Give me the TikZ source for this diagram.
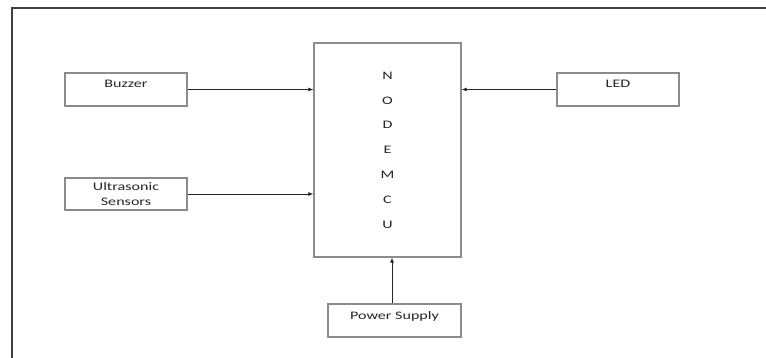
\documentclass[tikz,border=0pt]{standalone}
\usepackage{fontspec}
\usepackage{tikz}
\usetikzlibrary{arrows.meta, positioning, calc}
\newfontfamily\blockfont[FakeStretch=1.4]{Carlito}

\begin{document}
\begin{tikzpicture}[
    x=1pt, y=-1pt,
    blk/.style={draw=black!45, line width=1.1pt, fill=white, inner sep=0pt,
                font=\blockfont\fontsize{11.5}{15}\selectfont, text=black!85,
                minimum width=122pt, minimum height=33pt},
    top/.style={text height=8pt, text depth=11pt},
    arr/.style={-{Latex[length=5pt, width=4pt]}, draw=black!85, line width=0.9pt}
]
\useasboundingbox (0,0) rectangle (766,358);
% outer frame, cut off on the right and at the bottom
\draw[black!75, line width=2pt] (12,362) -- (12,8) -- (770,8);
% controller in the middle
\node[blk, minimum width=147pt, minimum height=214pt, align=center,
      font=\blockfont\fontsize{11.5}{24.8}\selectfont] (mcu) at (387.5,150)
      {N\\O\\D\\E\\M\\C\\U};
% blocks round it
\node[blk, top] (buzzer) at (126,89.5) {Buzzer};
\node[blk, align=center, minimum height=32pt] (sonic) at (126,194)
      {Ultrasonic\\Sensors};
\node[blk, top] (led) at (618,89.5) {LED};
\node[blk, top, minimum width=133pt] (power) at (394.5,320.5) {Power Supply};
% every block feeds the controller
\draw[arr] (buzzer.east) -- (buzzer.east -| mcu.west);
\draw[arr] (sonic.east) -- (sonic.east -| mcu.west);
\draw[arr] (led.west) -- (led.west -| mcu.east);
\draw[arr] ([xshift=-2.5pt]power.north) -- ([xshift=-2.5pt]power.north |- mcu.south);
\end{tikzpicture}
\end{document}
